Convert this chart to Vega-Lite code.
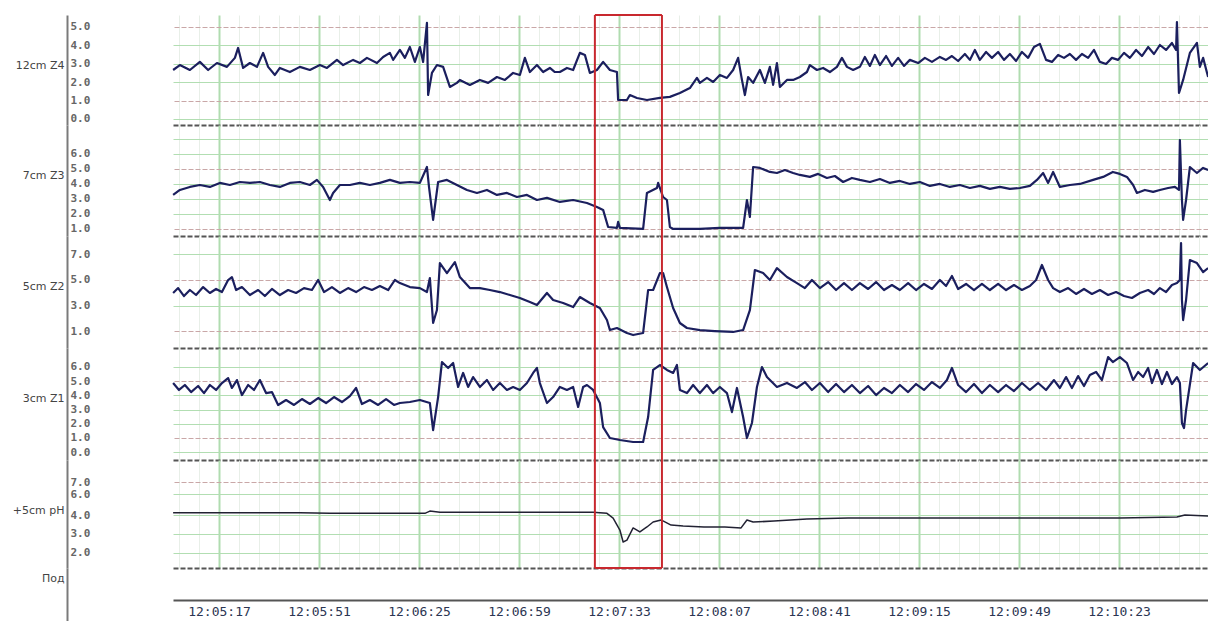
{
  "$schema": "https://vega.github.io/schema/vega-lite/v6.json",
  "padding": {"left": 12, "top": 14, "right": 0, "bottom": 0},
  "background": "white",
  "spacing": 0,
  "bounds": "flush",
  "config": {
    "view": {"stroke": null},
    "font": "DejaVu Sans",
    "axisY": {
      "offset": 106, "domainColor": "#7a7a7a", "domainWidth": 2, "ticks": false, "tickSize": 0,
      "labelAlign": "left", "labelPadding": -3, "labelFont": "DejaVu Sans Mono", "labelFontSize": 11,
      "labelFontWeight": "bold", "labelColor": "#666666", "labelBaseline": "middle", "labelOverlap": false,
      "labelFlush": false, "format": ".1f",
      "titleAngle": 0, "titleAlign": "right", "titleBaseline": "middle", "titleX": -3, "titleY": 50,
      "titleFont": "DejaVu Sans", "titleFontSize": 11, "titleFontWeight": "normal", "titleColor": "#444444",
      "grid": false
    }
  },
  "datasets": {
    "boxv": [{"t": 444.8}, {"t": 467.6}],
    "boxh": [{"t1": 444.8, "t2": 467.6}],
    "z4": [
      {"t":301.4,"v":2.66},{"t":303.7,"v":2.93},{"t":307.1,"v":2.66},{"t":310.5,"v":3.10},{"t":313.3,"v":2.66},{"t":316.3,"v":3.04},{"t":319.7,"v":2.83},{"t":322.4,"v":3.32},{"t":323.5,"v":3.86},{"t":325.2,"v":2.77},{"t":327.5,"v":3.04},{"t":329.9,"v":2.83},{"t":332.0,"v":3.59},{"t":333.7,"v":2.83},{"t":336.0,"v":2.39},{"t":337.7,"v":2.77},{"t":341.1,"v":2.55},{"t":344.5,"v":2.83},{"t":347.9,"v":2.66},{"t":351.3,"v":2.93},{"t":353.7,"v":2.77},{"t":357.1,"v":3.21},{"t":359.2,"v":2.93},{"t":362.6,"v":3.21},{"t":364.9,"v":3.04},{"t":367.3,"v":3.32},{"t":370.7,"v":3.04},{"t":372.8,"v":3.37},{"t":375.1,"v":3.59},{"t":376.2,"v":3.21},{"t":378.5,"v":3.75},{"t":380.2,"v":3.32},{"t":381.9,"v":3.91},{"t":383.6,"v":3.10},{"t":385.3,"v":3.91},{"t":386.4,"v":3.10},{"t":387.7,"v":5.22},{"t":388.1,"v":1.30},{"t":389.4,"v":2.50},{"t":391.1,"v":2.93},{"t":393.2,"v":2.83},{"t":395.5,"v":1.74},{"t":397.9,"v":1.96},{"t":398.9,"v":2.12},{"t":402.3,"v":1.85},{"t":405.7,"v":2.12},{"t":408.5,"v":1.96},{"t":411.5,"v":2.28},{"t":414.2,"v":2.12},{"t":417.0,"v":2.50},{"t":419.3,"v":2.39},{"t":421.0,"v":3.32},{"t":422.7,"v":2.55},{"t":425.1,"v":2.93},{"t":427.2,"v":2.55},{"t":429.5,"v":2.77},{"t":431.2,"v":2.55},{"t":432.9,"v":2.55},{"t":435.3,"v":2.77},{"t":437.4,"v":2.66},{"t":439.7,"v":3.59},{"t":441.4,"v":3.48},{"t":443.1,"v":2.50},{"t":445.5,"v":2.66},{"t":447.6,"v":3.10},{"t":449.9,"v":2.66},{"t":452.3,"v":2.55},{"t":452.7,"v":1.03},{"t":455.7,"v":1.03},{"t":456.7,"v":1.30},{"t":459.1,"v":1.14},{"t":462.5,"v":1.03},{"t":466.9,"v":1.14},{"t":470.3,"v":1.20},{"t":473.7,"v":1.41},{"t":477.1,"v":1.68},{"t":479.5,"v":2.23},{"t":480.5,"v":1.96},{"t":482.9,"v":2.23},{"t":485.0,"v":2.01},{"t":487.3,"v":2.39},{"t":489.7,"v":2.23},{"t":491.8,"v":2.66},{"t":493.5,"v":3.32},{"t":494.8,"v":2.12},{"t":495.8,"v":1.30},{"t":496.9,"v":2.28},{"t":498.6,"v":1.96},{"t":500.9,"v":2.66},{"t":502.6,"v":1.96},{"t":504.3,"v":2.83},{"t":505.4,"v":1.85},{"t":506.7,"v":3.04},{"t":507.7,"v":1.74},{"t":510.1,"v":2.12},{"t":512.2,"v":2.12},{"t":514.5,"v":2.28},{"t":516.9,"v":2.55},{"t":517.9,"v":2.93},{"t":520.3,"v":2.66},{"t":522.4,"v":2.77},{"t":524.7,"v":2.55},{"t":527.1,"v":2.83},{"t":528.8,"v":3.32},{"t":530.5,"v":2.83},{"t":532.6,"v":2.66},{"t":534.9,"v":2.83},
      {"t":536.6,"v":3.37},{"t":538.3,"v":2.88},{"t":540.0,"v":3.48},{"t":541.7,"v":2.93},{"t":543.8,"v":3.42},{"t":545.8,"v":2.88},{"t":547.9,"v":3.32},{"t":549.9,"v":2.88},{"t":551.9,"v":3.21},{"t":554.7,"v":3.04},{"t":557.0,"v":3.32},{"t":559.4,"v":3.10},{"t":562.1,"v":3.37},{"t":564.2,"v":3.21},{"t":566.2,"v":3.42},{"t":568.3,"v":3.15},{"t":570.6,"v":3.53},{"t":572.3,"v":3.21},{"t":574.0,"v":3.75},{"t":575.7,"v":3.21},{"t":577.8,"v":3.64},{"t":579.8,"v":3.32},{"t":581.9,"v":3.64},{"t":583.9,"v":3.21},{"t":585.9,"v":3.53},{"t":588.0,"v":3.15},{"t":590.0,"v":3.64},{"t":592.1,"v":3.32},{"t":594.1,"v":3.91},{"t":596.1,"v":4.08},{"t":598.2,"v":3.21},{"t":600.2,"v":3.10},{"t":602.3,"v":3.48},{"t":604.3,"v":3.32},{"t":606.3,"v":3.53},{"t":608.4,"v":3.21},{"t":610.4,"v":3.53},{"t":612.5,"v":3.32},{"t":614.5,"v":3.75},{"t":616.5,"v":3.10},{"t":618.6,"v":2.99},{"t":620.6,"v":3.32},{"t":622.7,"v":3.21},{"t":624.7,"v":3.59},{"t":626.7,"v":3.32},{"t":628.8,"v":3.75},{"t":630.8,"v":3.42},{"t":632.9,"v":3.91},{"t":634.9,"v":3.53},{"t":636.9,"v":4.02},{"t":639.0,"v":3.75},{"t":641.0,"v":4.13},{"t":642.4,"v":3.75},{"t":642.7,"v":5.27},{"t":643.4,"v":1.41},{"t":644.8,"v":2.12},{"t":647.1,"v":3.59},{"t":649.5,"v":4.13},{"t":650.5,"v":2.83},{"t":651.6,"v":3.32},{"t":653.3,"v":2.28}
    ],
    "z3": [
      {"t":301.4,"v":3.27},{"t":303.7,"v":3.60},{"t":307.1,"v":3.80},{"t":310.5,"v":3.93},{"t":313.9,"v":3.80},{"t":317.3,"v":4.07},{"t":320.7,"v":3.93},{"t":324.1,"v":4.13},{"t":327.5,"v":4.07},{"t":330.9,"v":4.13},{"t":334.3,"v":3.93},{"t":337.7,"v":3.80},{"t":341.1,"v":4.07},{"t":344.5,"v":4.13},{"t":347.9,"v":3.93},{"t":350.3,"v":4.27},{"t":352.4,"v":3.80},{"t":354.7,"v":2.93},{"t":355.8,"v":3.40},{"t":358.1,"v":3.93},{"t":361.5,"v":3.93},{"t":364.9,"v":4.07},{"t":368.3,"v":3.93},{"t":371.7,"v":4.07},{"t":375.1,"v":4.27},{"t":378.5,"v":4.07},{"t":381.9,"v":4.13},{"t":385.3,"v":4.07},{"t":387.7,"v":5.13},{"t":388.4,"v":3.80},{"t":389.8,"v":1.60},{"t":391.5,"v":4.13},{"t":394.5,"v":4.27},{"t":397.9,"v":3.93},{"t":401.3,"v":3.60},{"t":404.7,"v":3.40},{"t":408.1,"v":3.60},{"t":411.5,"v":3.27},{"t":414.9,"v":3.40},{"t":418.3,"v":3.13},{"t":421.7,"v":3.27},{"t":425.1,"v":2.93},{"t":428.5,"v":3.07},{"t":432.9,"v":2.80},{"t":437.4,"v":2.93},{"t":442.1,"v":2.73},{"t":445.5,"v":2.47},{"t":447.6,"v":2.27},{"t":449.3,"v":1.13},{"t":452.3,"v":1.07},{"t":452.7,"v":1.47},{"t":453.3,"v":1.07},{"t":461.2,"v":1.00},{"t":462.5,"v":3.40},{"t":465.9,"v":3.73},{"t":466.3,"v":4.07},{"t":468.0,"v":3.13},{"t":469.3,"v":2.93},{"t":470.3,"v":1.13},{"t":471.4,"v":1.00},{"t":480.5,"v":1.00},{"t":487.3,"v":1.07},{"t":495.2,"v":1.07},{"t":496.5,"v":2.93},{"t":497.5,"v":1.80},{"t":498.6,"v":5.13},{"t":500.9,"v":5.07},{"t":504.3,"v":4.80},{"t":506.7,"v":4.73},{"t":509.4,"v":4.93},{"t":512.2,"v":4.73},{"t":514.5,"v":4.60},{"t":517.9,"v":4.47},{"t":520.7,"v":4.67},{"t":523.7,"v":4.40},{"t":526.4,"v":4.53},{"t":529.2,"v":4.13},{"t":532.2,"v":4.40},{"t":534.9,"v":4.27},
      {"t":538.3,"v":4.13},{"t":541.7,"v":4.33},{"t":545.1,"v":4.07},{"t":548.5,"v":4.20},{"t":551.9,"v":4.00},{"t":555.3,"v":4.13},{"t":558.7,"v":3.87},{"t":562.1,"v":4.00},{"t":565.5,"v":3.80},{"t":568.9,"v":3.93},{"t":572.3,"v":3.73},{"t":575.7,"v":3.87},{"t":579.1,"v":3.67},{"t":582.5,"v":3.80},{"t":585.9,"v":3.67},{"t":589.3,"v":3.73},{"t":592.7,"v":3.87},{"t":595.1,"v":4.27},{"t":597.2,"v":4.73},{"t":598.9,"v":4.07},{"t":600.6,"v":4.80},{"t":602.9,"v":3.80},{"t":606.3,"v":3.93},{"t":609.7,"v":4.00},{"t":614.2,"v":4.27},{"t":617.6,"v":4.47},{"t":620.9,"v":4.80},{"t":623.3,"v":4.67},{"t":625.7,"v":4.47},{"t":627.8,"v":3.93},{"t":629.1,"v":3.40},{"t":631.8,"v":3.60},{"t":634.6,"v":3.47},{"t":636.9,"v":3.60},{"t":639.7,"v":3.73},{"t":642.0,"v":3.80},{"t":643.4,"v":3.60},{"t":643.7,"v":6.93},{"t":644.4,"v":2.93},{"t":644.8,"v":1.60},{"t":645.8,"v":2.93},{"t":647.1,"v":5.13},{"t":649.5,"v":4.73},{"t":651.6,"v":5.07},{"t":653.3,"v":4.93}
    ],
    "z2": [
      {"t":301.4,"v":3.98},{"t":303.1,"v":4.36},{"t":305.1,"v":3.74},{"t":307.1,"v":4.21},{"t":309.2,"v":3.82},{"t":311.6,"v":4.44},{"t":313.9,"v":3.98},{"t":316.0,"v":4.29},{"t":318.0,"v":4.05},{"t":320.1,"v":4.99},{"t":321.4,"v":5.22},{"t":322.8,"v":4.21},{"t":324.8,"v":4.44},{"t":327.5,"v":3.82},{"t":330.3,"v":4.21},{"t":332.6,"v":3.74},{"t":335.0,"v":4.29},{"t":337.7,"v":3.82},{"t":340.5,"v":4.21},{"t":343.2,"v":3.98},{"t":345.9,"v":4.36},{"t":348.6,"v":4.21},{"t":350.7,"v":4.99},{"t":352.7,"v":4.05},{"t":355.4,"v":4.44},{"t":358.1,"v":3.98},{"t":360.9,"v":4.36},{"t":363.6,"v":4.05},{"t":366.3,"v":4.44},{"t":369.0,"v":4.21},{"t":371.7,"v":4.52},{"t":374.5,"v":4.21},{"t":376.8,"v":4.99},{"t":378.5,"v":4.75},{"t":381.9,"v":4.44},{"t":385.3,"v":4.36},{"t":387.7,"v":4.05},{"t":388.7,"v":5.14},{"t":389.8,"v":1.64},{"t":391.1,"v":2.65},{"t":392.1,"v":6.31},{"t":394.5,"v":5.53},{"t":397.2,"v":6.39},{"t":398.9,"v":5.22},{"t":402.3,"v":4.36},{"t":405.7,"v":4.36},{"t":409.1,"v":4.21},{"t":412.5,"v":4.05},{"t":415.9,"v":3.82},{"t":419.3,"v":3.59},{"t":422.7,"v":3.27},{"t":425.1,"v":3.04},{"t":428.5,"v":3.98},{"t":430.6,"v":3.43},{"t":434.0,"v":3.20},{"t":437.4,"v":2.88},{"t":439.7,"v":3.66},{"t":443.1,"v":3.20},{"t":446.5,"v":2.81},{"t":448.9,"v":1.87},{"t":449.9,"v":1.09},{"t":452.3,"v":1.25},{"t":455.7,"v":0.86},{"t":457.8,"v":0.70},{"t":461.2,"v":0.86},{"t":462.9,"v":4.21},{"t":464.6,"v":4.21},{"t":466.9,"v":5.53},{"t":468.0,"v":5.53},{"t":469.3,"v":4.44},{"t":471.4,"v":2.81},{"t":473.7,"v":1.64},{"t":476.1,"v":1.25},{"t":480.5,"v":1.09},{"t":485.6,"v":1.01},{"t":491.8,"v":0.94},{"t":495.2,"v":1.09},{"t":497.5,"v":2.65},{"t":499.2,"v":5.77},{"t":502.0,"v":5.53},{"t":504.3,"v":4.99},{"t":506.7,"v":5.92},{"t":510.1,"v":5.22},{"t":513.5,"v":4.75},
      {"t":516.2,"v":4.36},{"t":518.6,"v":4.99},{"t":521.3,"v":4.36},{"t":524.1,"v":4.83},{"t":526.8,"v":4.21},{"t":529.5,"v":4.75},{"t":532.2,"v":4.21},{"t":534.9,"v":4.75},{"t":537.7,"v":4.29},{"t":540.4,"v":4.83},{"t":543.1,"v":4.21},{"t":545.8,"v":4.60},{"t":548.5,"v":4.21},{"t":551.3,"v":4.75},{"t":554.0,"v":4.21},{"t":556.7,"v":4.68},{"t":559.4,"v":4.29},{"t":562.1,"v":4.99},{"t":564.2,"v":4.52},{"t":566.2,"v":5.30},{"t":568.3,"v":4.29},{"t":571.0,"v":4.68},{"t":573.7,"v":4.21},{"t":576.4,"v":4.68},{"t":579.1,"v":4.21},{"t":581.9,"v":4.68},{"t":584.6,"v":4.21},{"t":587.3,"v":4.60},{"t":590.0,"v":4.21},{"t":592.7,"v":4.52},{"t":594.8,"v":4.99},{"t":596.8,"v":6.16},{"t":598.9,"v":4.99},{"t":600.6,"v":4.36},{"t":602.9,"v":4.05},{"t":605.7,"v":4.36},{"t":608.4,"v":3.90},{"t":611.1,"v":4.29},{"t":613.8,"v":3.90},{"t":616.5,"v":4.21},{"t":619.3,"v":3.82},{"t":622.0,"v":4.05},{"t":624.7,"v":3.74},{"t":627.4,"v":3.59},{"t":630.1,"v":3.98},{"t":632.9,"v":4.21},{"t":634.9,"v":3.90},{"t":636.9,"v":4.36},{"t":639.0,"v":4.05},{"t":641.0,"v":4.60},{"t":642.7,"v":4.75},{"t":643.7,"v":4.99},{"t":644.1,"v":7.87},{"t":644.4,"v":3.43},{"t":644.8,"v":1.87},{"t":645.8,"v":3.43},{"t":647.1,"v":6.55},{"t":649.5,"v":6.31},{"t":651.6,"v":5.61},{"t":653.3,"v":5.92}
    ],
    "z1": [
      {"t":301.4,"v":4.87},{"t":303.4,"v":4.38},{"t":305.4,"v":4.73},{"t":307.5,"v":4.23},{"t":309.9,"v":4.66},{"t":311.9,"v":4.16},{"t":313.9,"v":4.73},{"t":316.0,"v":4.38},{"t":318.0,"v":4.87},{"t":320.1,"v":5.22},{"t":321.4,"v":4.52},{"t":323.1,"v":5.08},{"t":324.8,"v":4.02},{"t":326.9,"v":4.73},{"t":328.9,"v":4.38},{"t":330.9,"v":5.08},{"t":333.0,"v":4.16},{"t":335.0,"v":4.23},{"t":337.1,"v":3.32},{"t":339.8,"v":3.67},{"t":342.5,"v":3.32},{"t":345.2,"v":3.74},{"t":347.9,"v":3.39},{"t":350.7,"v":3.81},{"t":353.4,"v":3.46},{"t":356.1,"v":3.88},{"t":358.8,"v":3.53},{"t":361.5,"v":3.95},{"t":363.6,"v":4.52},{"t":365.6,"v":3.39},{"t":368.3,"v":3.67},{"t":371.1,"v":3.32},{"t":373.8,"v":3.74},{"t":376.5,"v":3.32},{"t":378.5,"v":3.46},{"t":381.9,"v":3.53},{"t":385.3,"v":3.67},{"t":388.7,"v":3.46},{"t":389.8,"v":1.55},{"t":391.5,"v":3.88},{"t":392.8,"v":6.35},{"t":394.9,"v":5.93},{"t":396.6,"v":6.28},{"t":398.3,"v":4.59},{"t":400.0,"v":5.58},{"t":401.7,"v":4.59},{"t":403.4,"v":5.29},{"t":405.7,"v":4.59},{"t":408.1,"v":5.08},{"t":410.2,"v":4.38},{"t":412.5,"v":4.87},{"t":414.9,"v":4.38},{"t":417.0,"v":4.59},{"t":419.3,"v":4.38},{"t":421.7,"v":4.87},{"t":423.8,"v":5.58},{"t":425.1,"v":5.93},{"t":426.1,"v":4.87},{"t":428.5,"v":3.46},{"t":430.6,"v":3.88},{"t":432.9,"v":4.59},{"t":435.3,"v":4.38},{"t":437.4,"v":4.59},{"t":439.1,"v":3.18},{"t":440.8,"v":4.59},{"t":442.1,"v":4.73},{"t":444.2,"v":4.38},{"t":446.5,"v":3.46},{"t":447.6,"v":1.76},{"t":449.9,"v":0.99},{"t":453.3,"v":0.85},{"t":457.8,"v":0.71},{"t":461.2,"v":0.71},{"t":462.9,"v":2.47},{"t":464.6,"v":5.79},{"t":466.9,"v":6.14},{"t":469.3,"v":5.79},{"t":471.4,"v":5.58},{"t":472.7,"v":6.14},{"t":473.7,"v":4.38},{"t":476.1,"v":4.16},{"t":478.2,"v":4.73},{"t":480.5,"v":4.16},{"t":482.9,"v":4.73},{"t":485.0,"v":4.16},{"t":487.3,"v":4.59},{"t":489.7,"v":4.16},{"t":491.4,"v":2.82},{"t":493.1,"v":4.52},{"t":495.2,"v":2.47},{"t":496.5,"v":0.99},{"t":498.2,"v":2.05},{"t":499.9,"v":4.59},{"t":501.6,"v":6.00},{"t":503.3,"v":5.29},{"t":506.7,"v":4.59},{"t":510.1,"v":4.87},{"t":513.5,"v":4.52},
      {"t":516.2,"v":4.94},{"t":518.6,"v":4.38},{"t":521.3,"v":4.87},{"t":524.1,"v":4.23},{"t":526.8,"v":4.80},{"t":529.5,"v":4.23},{"t":532.2,"v":4.73},{"t":534.9,"v":4.16},{"t":537.7,"v":4.66},{"t":540.4,"v":4.02},{"t":543.1,"v":4.52},{"t":545.8,"v":4.16},{"t":548.5,"v":4.73},{"t":551.3,"v":4.23},{"t":554.0,"v":4.80},{"t":556.7,"v":4.38},{"t":559.4,"v":4.94},{"t":562.1,"v":4.52},{"t":564.5,"v":5.08},{"t":566.2,"v":5.93},{"t":568.3,"v":4.73},{"t":571.0,"v":4.23},{"t":573.7,"v":4.80},{"t":576.4,"v":4.16},{"t":579.1,"v":4.73},{"t":581.9,"v":4.23},{"t":584.6,"v":4.73},{"t":587.3,"v":4.30},{"t":590.0,"v":4.87},{"t":592.7,"v":4.38},{"t":595.5,"v":4.87},{"t":598.2,"v":4.38},{"t":600.9,"v":5.08},{"t":602.9,"v":4.52},{"t":605.0,"v":5.29},{"t":607.0,"v":4.52},{"t":609.1,"v":5.36},{"t":611.1,"v":4.66},{"t":613.1,"v":5.43},{"t":615.2,"v":5.65},{"t":617.2,"v":5.08},{"t":619.3,"v":6.70},{"t":620.9,"v":6.35},{"t":623.3,"v":6.70},{"t":625.7,"v":6.28},{"t":627.8,"v":5.08},{"t":629.5,"v":5.65},{"t":631.2,"v":5.29},{"t":632.9,"v":5.93},{"t":634.2,"v":4.87},{"t":635.9,"v":5.79},{"t":637.6,"v":4.80},{"t":639.3,"v":5.65},{"t":641.0,"v":4.80},{"t":642.7,"v":5.29},{"t":643.7,"v":4.87},{"t":644.4,"v":2.05},{"t":645.1,"v":1.69},{"t":645.8,"v":2.96},{"t":648.2,"v":6.28},{"t":650.5,"v":5.79},{"t":653.3,"v":6.28}
    ],
    "ph": [
      {"t":301.4,"v":4.21},{"t":344.5,"v":4.21},{"t":354.7,"v":4.16},{"t":371.7,"v":4.16},{"t":387.0,"v":4.16},{"t":388.7,"v":4.37},{"t":392.1,"v":4.26},{"t":412.5,"v":4.26},{"t":432.9,"v":4.26},{"t":444.2,"v":4.26},{"t":446.5,"v":4.21},{"t":448.9,"v":4.16},{"t":451.0,"v":3.84},{"t":453.3,"v":3.21},{"t":454.4,"v":2.58},{"t":455.7,"v":2.68},{"t":457.8,"v":3.32},{"t":460.1,"v":3.11},{"t":462.5,"v":3.37},{"t":464.6,"v":3.63},{"t":467.3,"v":3.74},{"t":470.7,"v":3.47},{"t":474.8,"v":3.42},{"t":481.9,"v":3.37},{"t":489.0,"v":3.37},{"t":494.5,"v":3.32},{"t":496.5,"v":3.74},{"t":498.6,"v":3.63},{"t":505.7,"v":3.68},{"t":516.9,"v":3.79},{"t":530.9,"v":3.84},{"t":551.9,"v":3.84},{"t":600.9,"v":3.84},{"t":623.3,"v":3.84},{"t":642.7,"v":3.89},{"t":645.4,"v":4.00},{"t":653.3,"v":3.95}
    ]
  },
  "vconcat": [
    {
      "width": 1035, "height": 110,
      "resolve": {"axis": {"x": "independent", "y": "independent"}},
      "layer": [
        {
          "data": {"name": "z4"},
          "mark": {"type": "point", "opacity": 0},
          "encoding": {
            "x": {"field": "t", "type": "quantitative", "scale": {"domain": [301.36, 653.26], "nice": false, "zero": false},
              "axis": {"orient": "bottom", "title": null, "labels": false, "ticks": false, "domain": true, "domainColor": "#555555", "domainDash": [5, 2], "domainWidth": 2, "grid": true, "gridColor": "#e8efe8", "gridWidth": 1,
                "values": [303.4,310.2,323.8,330.6,337.4,344.2,357.8,364.6,371.4,378.2,391.8,398.6,405.4,412.2,425.8,432.6,439.4,446.2,459.8,466.6,473.4,480.2,493.8,500.6,507.4,514.2,527.8,534.6,541.4,548.2,561.8,568.6,575.4,582.2,595.8,602.6,609.4,616.2,629.8,636.6,643.4,650.2]}},
            "y": {"field": "v", "type": "quantitative", "scale": {"domain": [-0.33, 5.65], "nice": false, "zero": false},
              "axis": {"orient": "right", "offset": 0, "title": null, "labels": false, "domain": false, "ticks": false, "grid": true, "gridWidth": 1, "values": [0, 1, 2, 3, 4, 5],
                "gridColor": {"condition": {"test": "datum.value === 1 || datum.value === 5", "value": "#c9a7a7"}, "value": "#b2deb2"},
                "gridDash": {"condition": {"test": "datum.value === 1 || datum.value === 5", "value": [5, 2]}, "value": []}}}
          }
        },
        {
          "data": {"name": "z4"},
          "mark": {"type": "line", "color": "#1b1f5e", "strokeWidth": 2.2, "strokeJoin": "round"},
          "encoding": {
            "x": {"field": "t", "type": "quantitative", "axis": {"orient": "bottom", "title": null, "labels": false, "ticks": false, "domain": false, "grid": true, "gridColor": "#b0dcb0", "gridWidth": 2, "values": [317, 351, 385, 419, 453, 487, 521, 555, 589, 623]}},
            "y": {"field": "v", "type": "quantitative", "axis": {"title": "12cm Z4", "values": [0, 1, 2, 3, 4, 5]}}
          }
        },
        {"data": {"name": "boxv"}, "mark": {"type": "rule", "color": "#c8282e", "strokeWidth": 2}, "encoding": {"x": {"field": "t", "type": "quantitative", "axis": null}}},
        {"data": {"name": "boxh"}, "mark": {"type": "rule", "color": "#c8282e", "strokeWidth": 2}, "encoding": {"x": {"field": "t1", "type": "quantitative", "axis": null}, "x2": {"field": "t2"}, "y": {"datum": 5.65, "axis": null}}}
      ]
    },
    {
      "width": 1035, "height": 111,
      "resolve": {"axis": {"x": "independent", "y": "independent"}},
      "layer": [
        {
          "data": {"name": "z3"},
          "mark": {"type": "point", "opacity": 0},
          "encoding": {
            "x": {"field": "t", "type": "quantitative", "scale": {"domain": [301.36, 653.26], "nice": false, "zero": false},
              "axis": {"orient": "bottom", "title": null, "labels": false, "ticks": false, "domain": true, "domainColor": "#555555", "domainDash": [5, 2], "domainWidth": 2, "grid": true, "gridColor": "#e8efe8", "gridWidth": 1,
                "values": [303.4,310.2,323.8,330.6,337.4,344.2,357.8,364.6,371.4,378.2,391.8,398.6,405.4,412.2,425.8,432.6,439.4,446.2,459.8,466.6,473.4,480.2,493.8,500.6,507.4,514.2,527.8,534.6,541.4,548.2,561.8,568.6,575.4,582.2,595.8,602.6,609.4,616.2,629.8,636.6,643.4,650.2]}},
            "y": {"field": "v", "type": "quantitative", "scale": {"domain": [0.53, 7.93], "nice": false, "zero": false},
              "axis": {"orient": "right", "offset": 0, "title": null, "labels": false, "domain": false, "ticks": false, "grid": true, "gridWidth": 1, "values": [1, 2, 3, 4, 5, 6, 7],
                "gridColor": {"condition": {"test": "datum.value === 1 || datum.value === 5", "value": "#c9a7a7"}, "value": "#b2deb2"},
                "gridDash": {"condition": {"test": "datum.value === 1 || datum.value === 5", "value": [5, 2]}, "value": []}}}
          }
        },
        {
          "data": {"name": "z3"},
          "mark": {"type": "line", "color": "#1b1f5e", "strokeWidth": 2.2, "strokeJoin": "round"},
          "encoding": {
            "x": {"field": "t", "type": "quantitative", "axis": {"orient": "bottom", "title": null, "labels": false, "ticks": false, "domain": false, "grid": true, "gridColor": "#b0dcb0", "gridWidth": 2, "values": [317, 351, 385, 419, 453, 487, 521, 555, 589, 623]}},
            "y": {"field": "v", "type": "quantitative", "axis": {"title": "7cm Z3", "values": [1, 2, 3, 4, 5, 6]}}
          }
        },
        {"data": {"name": "boxv"}, "mark": {"type": "rule", "color": "#c8282e", "strokeWidth": 2}, "encoding": {"x": {"field": "t", "type": "quantitative", "axis": null}}}
      ]
    },
    {
      "width": 1035, "height": 112,
      "resolve": {"axis": {"x": "independent", "y": "independent"}},
      "layer": [
        {
          "data": {"name": "z2"},
          "mark": {"type": "point", "opacity": 0},
          "encoding": {
            "x": {"field": "t", "type": "quantitative", "scale": {"domain": [301.36, 653.26], "nice": false, "zero": false},
              "axis": {"orient": "bottom", "title": null, "labels": false, "ticks": false, "domain": true, "domainColor": "#555555", "domainDash": [5, 2], "domainWidth": 2, "grid": true, "gridColor": "#e8efe8", "gridWidth": 1,
                "values": [303.4,310.2,323.8,330.6,337.4,344.2,357.8,364.6,371.4,378.2,391.8,398.6,405.4,412.2,425.8,432.6,439.4,446.2,459.8,466.6,473.4,480.2,493.8,500.6,507.4,514.2,527.8,534.6,541.4,548.2,561.8,568.6,575.4,582.2,595.8,602.6,609.4,616.2,629.8,636.6,643.4,650.2]}},
            "y": {"field": "v", "type": "quantitative", "scale": {"domain": [-0.31, 8.42], "nice": false, "zero": false},
              "axis": {"orient": "right", "offset": 0, "title": null, "labels": false, "domain": false, "ticks": false, "grid": true, "gridWidth": 1, "values": [1, 3, 5, 7],
                "gridColor": {"condition": {"test": "datum.value === 1 || datum.value === 5", "value": "#c9a7a7"}, "value": "#b2deb2"},
                "gridDash": {"condition": {"test": "datum.value === 1 || datum.value === 5", "value": [5, 2]}, "value": []}}}
          }
        },
        {
          "data": {"name": "z2"},
          "mark": {"type": "line", "color": "#1b1f5e", "strokeWidth": 2.2, "strokeJoin": "round"},
          "encoding": {
            "x": {"field": "t", "type": "quantitative", "axis": {"orient": "bottom", "title": null, "labels": false, "ticks": false, "domain": false, "grid": true, "gridColor": "#b0dcb0", "gridWidth": 2, "values": [317, 351, 385, 419, 453, 487, 521, 555, 589, 623]}},
            "y": {"field": "v", "type": "quantitative", "axis": {"title": "5cm Z2", "values": [1, 3, 5, 7]}}
          }
        },
        {"data": {"name": "boxv"}, "mark": {"type": "rule", "color": "#c8282e", "strokeWidth": 2}, "encoding": {"x": {"field": "t", "type": "quantitative", "axis": null}}}
      ]
    },
    {
      "width": 1035, "height": 112,
      "resolve": {"axis": {"x": "independent", "y": "independent"}},
      "layer": [
        {
          "data": {"name": "z1"},
          "mark": {"type": "point", "opacity": 0},
          "encoding": {
            "x": {"field": "t", "type": "quantitative", "scale": {"domain": [301.36, 653.26], "nice": false, "zero": false},
              "axis": {"orient": "bottom", "title": null, "labels": false, "ticks": false, "domain": true, "domainColor": "#555555", "domainDash": [5, 2], "domainWidth": 2, "grid": true, "gridColor": "#e8efe8", "gridWidth": 1,
                "values": [303.4,310.2,323.8,330.6,337.4,344.2,357.8,364.6,371.4,378.2,391.8,398.6,405.4,412.2,425.8,432.6,439.4,446.2,459.8,466.6,473.4,480.2,493.8,500.6,507.4,514.2,527.8,534.6,541.4,548.2,561.8,568.6,575.4,582.2,595.8,602.6,609.4,616.2,629.8,636.6,643.4,650.2]}},
            "y": {"field": "v", "type": "quantitative", "scale": {"domain": [-0.56, 7.34], "nice": false, "zero": false},
              "axis": {"orient": "right", "offset": 0, "title": null, "labels": false, "domain": false, "ticks": false, "grid": true, "gridWidth": 1, "values": [0, 1, 2, 3, 4, 5, 6],
                "gridColor": {"condition": {"test": "datum.value === 1 || datum.value === 5", "value": "#c9a7a7"}, "value": "#b2deb2"},
                "gridDash": {"condition": {"test": "datum.value === 1 || datum.value === 5", "value": [5, 2]}, "value": []}}}
          }
        },
        {
          "data": {"name": "z1"},
          "mark": {"type": "line", "color": "#1b1f5e", "strokeWidth": 2.2, "strokeJoin": "round"},
          "encoding": {
            "x": {"field": "t", "type": "quantitative", "axis": {"orient": "bottom", "title": null, "labels": false, "ticks": false, "domain": false, "grid": true, "gridColor": "#b0dcb0", "gridWidth": 2, "values": [317, 351, 385, 419, 453, 487, 521, 555, 589, 623]}},
            "y": {"field": "v", "type": "quantitative", "axis": {"title": "3cm Z1", "values": [0, 1, 2, 3, 4, 5, 6]}}
          }
        },
        {"data": {"name": "boxv"}, "mark": {"type": "rule", "color": "#c8282e", "strokeWidth": 2}, "encoding": {"x": {"field": "t", "type": "quantitative", "axis": null}}}
      ]
    },
    {
      "width": 1035, "height": 108,
      "resolve": {"axis": {"x": "independent", "y": "independent"}},
      "layer": [
        {
          "data": {"name": "ph"},
          "mark": {"type": "point", "opacity": 0},
          "encoding": {
            "x": {"field": "t", "type": "quantitative", "scale": {"domain": [301.36, 653.26], "nice": false, "zero": false},
              "axis": {"orient": "bottom", "title": null, "labels": false, "ticks": false, "domain": true, "domainColor": "#555555", "domainDash": [5, 2], "domainWidth": 2, "grid": true, "gridColor": "#e8efe8", "gridWidth": 1,
                "values": [303.4,310.2,323.8,330.6,337.4,344.2,357.8,364.6,371.4,378.2,391.8,398.6,405.4,412.2,425.8,432.6,439.4,446.2,459.8,466.6,473.4,480.2,493.8,500.6,507.4,514.2,527.8,534.6,541.4,548.2,561.8,568.6,575.4,582.2,595.8,602.6,609.4,616.2,629.8,636.6,643.4,650.2]}},
            "y": {"field": "v", "type": "quantitative", "scale": {"domain": [1.21, 4, 6, 7, 9.67], "range": [108, 55, 34, 22, 0], "nice": false, "zero": false},
              "axis": {"orient": "right", "offset": 0, "title": null, "labels": false, "domain": false, "ticks": false, "grid": true, "gridWidth": 1, "values": [2, 3, 4, 6, 7],
                "gridColor": {"condition": {"test": "datum.value === 7", "value": "#c9a7a7"}, "value": "#b2deb2"},
                "gridDash": {"condition": {"test": "datum.value === 7", "value": [5, 2]}, "value": []}}}
          }
        },
        {
          "data": {"name": "ph"},
          "mark": {"type": "line", "color": "#222233", "strokeWidth": 1.5, "strokeJoin": "round"},
          "encoding": {
            "x": {"field": "t", "type": "quantitative", "axis": {"orient": "bottom", "title": null, "labels": false, "ticks": false, "domain": false, "grid": true, "gridColor": "#b0dcb0", "gridWidth": 2, "values": [317, 351, 385, 419, 453, 487, 521, 555, 589, 623]}},
            "y": {"field": "v", "type": "quantitative", "axis": {"title": "+5cm pH", "values": [2, 3, 4, 6, 7]}}
          }
        },
        {"data": {"name": "boxv"}, "mark": {"type": "rule", "color": "#c8282e", "strokeWidth": 2}, "encoding": {"x": {"field": "t", "type": "quantitative", "axis": null}}},
        {"data": {"name": "boxh"}, "mark": {"type": "rule", "color": "#c8282e", "strokeWidth": 2}, "encoding": {"x": {"field": "t1", "type": "quantitative", "axis": null}, "x2": {"field": "t2"}, "y": {"datum": 1.21, "axis": null}}}
      ]
    },
    {
      "width": 1035, "height": 53,
      "data": {"name": "boxv"},
      "mark": {"type": "point", "opacity": 0},
      "encoding": {
        "x": {"field": "t", "type": "quantitative", "scale": {"domain": [301.36, 653.26], "nice": false, "zero": false},
          "axis": {"title": null, "grid": false, "ticks": false, "domain": true, "domainColor": "#555555", "domainWidth": 2, "offset": -21,
            "labels": true, "labelFlush": false, "labelOverlap": false, "labelPadding": 5, "labelFont": "DejaVu Sans Mono", "labelFontSize": 13, "labelColor": "#2b3552",
            "values": [317, 351, 385, 419, 453, 487, 521, 555, 589, 623],
            "labelExpr": "'12:' + (floor(datum.value / 60) < 10 ? '0' : '') + floor(datum.value / 60) + ':' + (round(datum.value % 60) < 10 ? '0' : '') + round(datum.value % 60)"}},
        "y": {"datum": 0.5, "type": "quantitative", "scale": {"domain": [0, 1], "nice": false, "zero": false},
          "axis": {"title": "Под", "titleY": 10, "values": [], "grid": false, "labels": false}}
      }
    }
  ]
}
